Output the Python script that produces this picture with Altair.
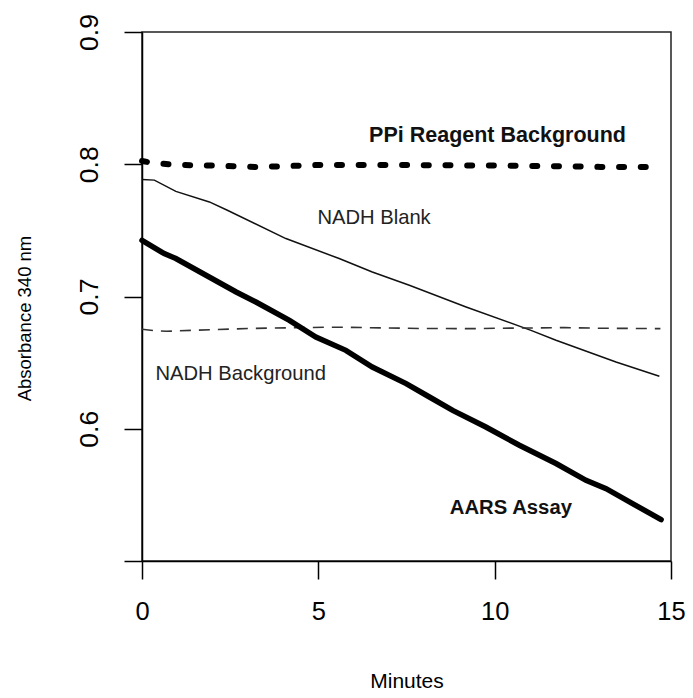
import altair as alt
import pandas as pd

# ---- data ----
ppi_t = [0.0, 0.3, 1.0, 2.0, 3.2, 4.0, 5.0, 6.0, 7.0, 8.0, 10.0, 12.0, 13.0, 14.7]
ppi_a = [0.8025, 0.801, 0.7995, 0.799, 0.798, 0.7985, 0.7995, 0.7995, 0.7995, 0.7993, 0.799, 0.7985, 0.798, 0.7978]

blank_t = [0.0, 0.35, 0.96, 1.91, 2.42, 4.08, 5.59, 6.53, 7.58, 9.19, 11.03, 11.74, 13.44, 14.67]
blank_a = [0.7884, 0.788, 0.7795, 0.7715, 0.7652, 0.7438, 0.7287, 0.7185, 0.7085, 0.6921, 0.6744, 0.6669, 0.6505, 0.6397]

bg_t = [0.0, 0.4, 0.7, 1.5, 3.0, 4.5, 5.5, 7.0, 8.0, 9.5, 10.0, 11.0, 12.0, 13.0, 14.7]
bg_a = [0.6752, 0.674, 0.6737, 0.6745, 0.6758, 0.6765, 0.6768, 0.6762, 0.6758, 0.6757, 0.676, 0.6762, 0.6765, 0.676, 0.6757]

aars_t = [0.0, 0.63, 0.96, 2.67, 3.23, 4.18, 4.93, 5.78, 6.53, 7.49, 8.15, 8.81, 9.75, 10.70, 11.74, 12.59, 13.16, 13.91, 14.72]
aars_a = [0.7425, 0.7324, 0.7287, 0.7034, 0.6958, 0.6820, 0.6694, 0.6593, 0.6467, 0.6341, 0.6240, 0.6139, 0.6013, 0.5875, 0.5737, 0.5610, 0.5547, 0.5434, 0.5313]

ppi_label = ["PPi Reagent Background"]
ppi_label_x = [10.08]
ppi_label_y = [0.8168]

aars_label = ["AARS Assay"]
aars_label_x = [10.46]
aars_label_y = [0.5358]

plain_labels = ["NADH Blank", "NADH Background"]
plain_x = [6.58, 2.80]
plain_y = [0.7546, 0.6366]

x_ticks = [0, 5, 10, 15]
y_ticks = [0.5, 0.6, 0.7, 0.8, 0.9]

FONT = "Liberation Sans"

xscale = alt.Scale(domain=[0, 15], nice=False, zero=False)
yscale = alt.Scale(domain=[0.5, 0.9], nice=False, zero=False)

xaxis = alt.Axis(
    values=x_ticks, title="Minutes", grid=False, tickSize=18, tickWidth=1.5,
    tickColor="black", domainColor="black", domainWidth=1.5,
    labelFontSize=25.5, labelFont=FONT, labelColor="black", labelPadding=20,
    labelFlush=False, labelOverlap=False,
    titleFont=FONT, titleFontSize=21, titleFontWeight="normal", titleColor="black",
    titleY=126, titleBaseline="alphabetic",
)
yaxis = alt.Axis(
    values=y_ticks, title="Absorbance 340 nm", grid=False, tickSize=18, tickWidth=1.5,
    tickColor="black", domainColor="black", domainWidth=1.5,
    labelFontSize=26.5, labelFont=FONT, labelColor="black", labelPadding=21,
    labelAngle=270, labelAlign="center", labelBaseline="bottom",
    labelFlush=False, labelOverlap=False,
    labelExpr="datum.value < 0.55 ? '' : format(datum.value, '.1f')",
    titleFont=FONT, titleFontSize=18.5, titleFontWeight="normal", titleColor="black",
    titleAngle=270, titleX=-118, titleY=286, titleAlign="center", titleBaseline="middle",
)

X = alt.X("t:Q", scale=xscale, axis=xaxis)
Y = alt.Y("a:Q", scale=yscale, axis=yaxis)


def frame(ts, vals):
    return pd.DataFrame({"t": ts, "a": vals})


def line(df, **kw):
    return alt.Chart(df).mark_line(**kw).encode(x=X, y=Y)


def label(texts, xs, ys, **kw):
    df = pd.DataFrame({"label": texts, "t": xs, "a": ys})
    return alt.Chart(df).mark_text(
        font=FONT, baseline="alphabetic", align="center", **kw
    ).encode(x=X, y=Y, text="label:N")


ppi = line(frame(ppi_t, ppi_a), color="black", strokeWidth=6,
           strokeDash=[5, 16.7], strokeCap="round")
blank = line(frame(blank_t, blank_a), color="#111111", strokeWidth=1.5)
bg = line(frame(bg_t, bg_a), color="#333333", strokeWidth=1.6, strokeDash=[11, 8])
aars = line(frame(aars_t, aars_a), color="black", strokeWidth=5.5, strokeCap="round")

ppi_text = label(ppi_label, ppi_label_x, ppi_label_y, fontSize=21.5, fontWeight="bold", color="#111111")
aars_text = label(aars_label, aars_label_x, aars_label_y, fontSize=20.3, fontWeight="bold", color="#111111")
plain_text = label(plain_labels, plain_x, plain_y, fontSize=20.2, color="#222222")

chart = alt.layer(ppi, blank, bg, aars, ppi_text, aars_text, plain_text).properties(
    width=529, height=529,
    padding={"left": 134, "top": 24, "right": 14, "bottom": 129},
    autosize="none",
).configure_view(stroke="#222222", strokeWidth=1.5)

chart.save("out.html", embed_options={"renderer": "svg", "actions": False})
